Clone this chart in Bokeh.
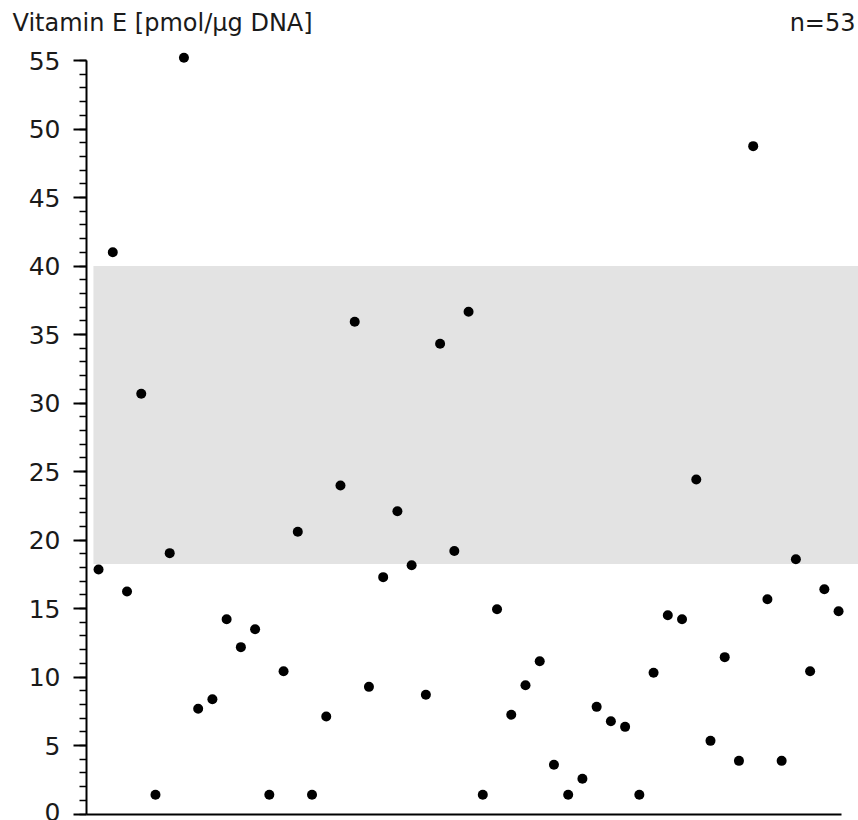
from bokeh.plotting import figure
from bokeh.models import Range1d, FixedTicker, Label, ColumnDataSource
from bokeh.embed import file_html
from bokeh.resources import INLINE

# ---- data ----
sample_index = list(range(1, 54))
vitamin_e = [17.85, 41.0, 16.24, 30.67, 1.4, 19.04, 55.2, 7.68, 8.38, 14.22,
             12.18, 13.49, 1.4, 10.42, 20.6, 1.4, 7.12, 23.98, 35.93, 9.28,
             17.29, 22.1, 18.16, 8.70, 34.32, 19.2, 36.66, 1.4, 14.95, 7.24,
             9.40, 11.15, 3.59, 1.4, 2.57, 7.82, 6.77, 6.36, 1.4, 10.31,
             14.51, 14.22, 24.42, 5.34, 11.45, 3.88, 48.75, 15.68, 3.88, 18.6,
             10.42, 16.41, 14.80]
ref_low = [18.25]
ref_high = [40.0]
band_left = [0.64]
band_right = [60.0]
y_ticks = [0, 5, 10, 15, 20, 25, 30, 35, 40, 45, 50, 55]
y_minor = list(range(0, 56))
title_text = "Vitamin E [pmol/µg DNA]"
n_text = "n=53"

FONT = "DejaVu Sans"
TXT = "#1a1a1a"

X0 = 0.15    # data x where the y axis sits
p = figure(width=858, height=820,
           x_range=Range1d(-5.89, 54.4), y_range=Range1d(-0.474, 59.38),
           output_backend="svg", toolbar_location=None,
           min_border_left=0, min_border_right=0, min_border_top=0,
           min_border_bottom=0)
p.outline_line_color = None
p.grid.visible = False
p.background_fill_color = "white"
p.border_fill_color = "white"

band = ColumnDataSource(dict(left=band_left, right=band_right, bottom=ref_low, top=ref_high))
p.quad(left="left", right="right", bottom="bottom", top="top", source=band,
       fill_color="#e3e3e3", line_color=None)

src = ColumnDataSource(dict(x=sample_index, y=vitamin_e))
p.scatter("x", "y", source=src, size=10, fill_color="black", line_color=None)

# y axis
ya = p.yaxis[0]
ya.fixed_location = X0
ya.ticker = FixedTicker(ticks=y_ticks, minor_ticks=y_minor)
ya.bounds = (0, 55)
ya.axis_line_width = 2
ya.axis_line_color = "black"
ya.major_tick_out = 13
ya.major_tick_in = 0
ya.major_tick_line_width = 2
ya.minor_tick_out = 7
ya.minor_tick_in = 0
ya.minor_tick_line_width = 1.5
ya.major_label_text_font = FONT
ya.major_label_text_font_size = "25px"
ya.major_label_text_color = TXT
ya.major_label_standoff = 13

# x axis: line only
xa = p.xaxis[0]
xa.fixed_location = 0
xa.ticker = FixedTicker(ticks=[])
xa.bounds = (X0, 53.2)
xa.axis_line_width = 2
xa.axis_line_color = "black"
xa.major_tick_out = 0
xa.major_tick_in = 0
xa.minor_tick_out = 0
xa.minor_tick_in = 0
xa.major_label_standoff = 0
xa.major_label_text_font_size = "0px"

p.add_layout(Label(x=12, y=22, x_units="canvas", y_units="canvas", text=title_text,
                   text_align="left", text_baseline="middle", level="overlay",
                   text_font=FONT, text_font_size="24px", text_color=TXT))

p.add_layout(Label(x=855, y=22, x_units="canvas", y_units="canvas", text=n_text,
                   text_align="right", text_baseline="middle", level="overlay",
                   text_font=FONT, text_font_size="24px", text_color=TXT))

open("out.html", "w").write(file_html(p, INLINE))
